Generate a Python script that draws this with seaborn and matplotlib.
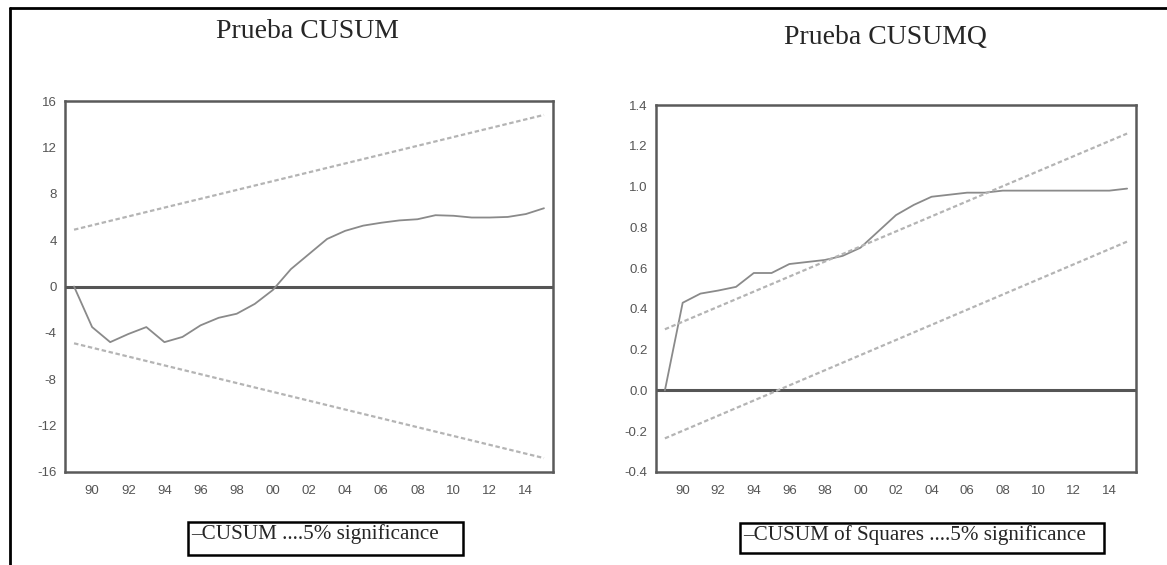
import matplotlib
matplotlib.use("Agg")
import matplotlib.pyplot as plt
import seaborn as sns
import pandas as pd
from matplotlib.patches import Rectangle
from matplotlib.lines import Line2D
from matplotlib.ticker import FixedLocator
from matplotlib import font_manager

# ---------------- data ----------------
years = list(range(1989, 2016))
cusum = [0.0, -3.5, -4.8, -4.1, -3.5, -4.8, -4.35, -3.35, -2.7, -2.35, -1.5, -0.3,
         1.5, 2.8, 4.1, 4.8, 5.25, 5.5, 5.7, 5.8, 6.15, 6.1, 5.95, 5.95, 6.0, 6.25, 6.75]
bound_years = [1989, 2015]
cusum_upper = [4.9, 14.8]
cusum_lower = [-4.9, -14.8]

cusumq = [0.0, 0.43, 0.475, 0.49, 0.508, 0.576, 0.576, 0.62, 0.63, 0.64, 0.66, 0.70,
          0.78, 0.86, 0.91, 0.95, 0.96, 0.97, 0.97, 0.98, 0.98, 0.98, 0.98, 0.98, 0.98, 0.98, 0.99]
cusumq_upper = [0.30, 1.26]
cusumq_lower = [-0.235, 0.73]

label_years = list(range(1990, 2015, 2))
x_labels = ["90", "92", "94", "96", "98", "00", "02", "04", "06", "08", "10", "12", "14"]
left_yticks = [-16, -12, -8, -4, 0, 4, 8, 12, 16]
left_ylabels = ["-16", "-12", "-8", "-4", "0", "4", "8", "12", "16"]
right_yticks = [-0.4, -0.2, 0.0, 0.2, 0.4, 0.6, 0.8, 1.0, 1.2, 1.4]
right_ylabels = ["-0.4", "-0.2", "0.0", "0.2", "0.4", "0.6", "0.8", "1.0", "1.2", "1.4"]

titles = ["Prueba CUSUM", "Prueba CUSUMQ"]
legends = ["\u2013CUSUM ....5% significance", "\u2013CUSUM of Squares ....5% significance"]

# ---------------- style ----------------
sns.set_style("white")
installed = {f.name for f in font_manager.fontManager.ttflist}
tick_family = "Liberation Sans Narrow" if "Liberation Sans Narrow" in installed else "Liberation Sans"
plt.rcParams["font.family"] = [tick_family, "DejaVu Sans"]

fig = plt.figure(figsize=(11.67, 5.65), dpi=100)
ax1 = fig.add_axes([65/1167, 1-472/565, 488/1167, 371/565])
ax2 = fig.add_axes([656/1167, 1-472/565, 480/1167, 367/565])

main_c = "#8a8a8a"
bound_c = "#b4b4b4"
spine_c = "#5a5a5a"

def draw(ax, vals, up, lo, yticks, ylabels, ylim):
    df = pd.DataFrame({"year": years, "v": vals})
    sns.lineplot(data=df, x="year", y="v", ax=ax, color=main_c, linewidth=1.3)
    bdf = pd.DataFrame({"year": bound_years, "up": up, "lo": lo})
    sns.lineplot(data=bdf, x="year", y="up", ax=ax, color=bound_c, linewidth=1.6,
                 linestyle=(0, (2, 1.2)))
    sns.lineplot(data=bdf, x="year", y="lo", ax=ax, color=bound_c, linewidth=1.6,
                 linestyle=(0, (2, 1.2)))
    ax.axhline(0, color="#555555", linewidth=2.2, zorder=1)
    ax.set_xlim(1988.5, 2015.5)
    ax.set_ylim(*ylim)
    ax.set_xticks(label_years)
    ax.set_xticklabels(x_labels)
    ax.xaxis.set_minor_locator(FixedLocator([y + 0.5 for y in range(1988, 2016)]))
    ax.tick_params(axis="x", which="major", length=0, labelsize=9.5, labelcolor="#555555", pad=9)
    ax.tick_params(axis="x", which="minor", length=5, width=1.2, color=spine_c, direction="inout")
    ax.set_yticks(yticks)
    ax.set_yticklabels(ylabels)
    ax.tick_params(axis="y", which="major", length=5, width=1.2, color=spine_c,
                   labelsize=9.5, labelcolor="#555555", pad=1)
    ax.set_xlabel("")
    ax.set_ylabel("")
    for s in ax.spines.values():
        s.set_visible(True)
        s.set_color(spine_c)
        s.set_linewidth(1.8)

draw(ax1, cusum, cusum_upper, cusum_lower, left_yticks, left_ylabels, (-16, 16))
draw(ax2, cusumq, cusumq_upper, cusumq_lower, right_yticks, right_ylabels, (-0.4, 1.4))

serif = ["Liberation Serif", "DejaVu Serif"]
fig.text(307/1167, 1-38.5/565, titles[0], ha="center", va="baseline", fontsize=20, family=serif)
fig.text(885/1167, 1-44/565, titles[1], ha="center", va="baseline", fontsize=20, family=serif)

# legend boxes
for (x0, y0, x1, y1), txt in zip([(188, 522, 463, 555), (740, 523, 1104, 553)], legends):
    fig.patches.append(Rectangle((x0/1167, 1-y1/565), (x1-x0)/1167, (y1-y0)/565,
                                 transform=fig.transFigure, fill=False,
                                 edgecolor="black", linewidth=1.8))
    fig.text((x0+3)/1167, 1-(y0+17)/565, txt, ha="left", va="baseline", fontsize=15.2, family=serif)

# outer frame
fig.add_artist(Line2D([10/1167, 10/1167], [0, 1-8/565], transform=fig.transFigure,
                      color="black", linewidth=2))
fig.add_artist(Line2D([10/1167, 1], [1-8/565, 1-8/565], transform=fig.transFigure,
                      color="black", linewidth=2))

fig.savefig("out.png", dpi=100)
